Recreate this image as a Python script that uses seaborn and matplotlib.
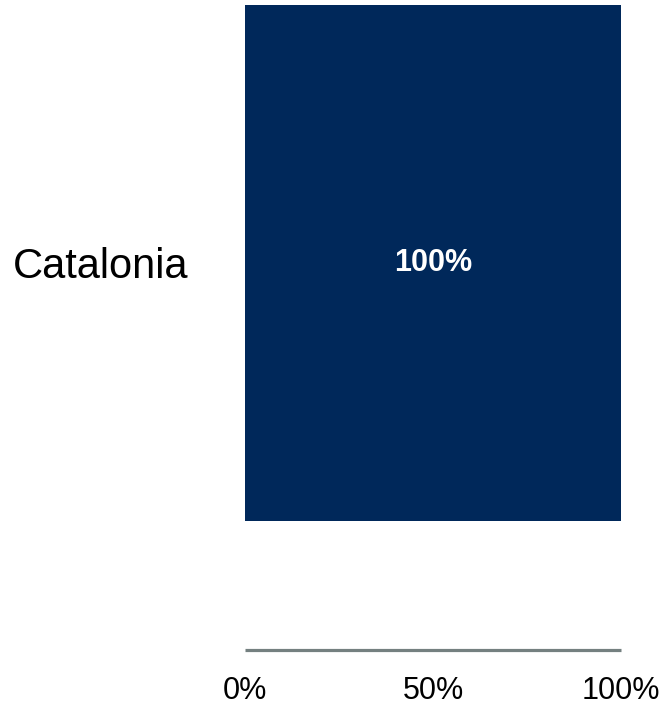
import matplotlib
matplotlib.use("Agg")
import matplotlib.pyplot as plt
import pandas as pd
import seaborn as sns

# chart data
regions = ["Catalonia"]
shares = [100]
share_labels = ["100%"]
x_ticks = [0, 50, 100]
x_tick_labels = ["0%", "50%", "100%"]

bar_color = "#00285A"
axis_gray = "#748080"

sns.set_theme(style="white")
plt.rcParams['font.family'] = ['Liberation Sans', 'DejaVu Sans']

df = pd.DataFrame({"region": regions, "share": shares})

fig = plt.figure(figsize=(6.67, 7.07), dpi=100)
ax = fig.add_axes([245 / 667, 57 / 707, 376 / 667, 645 / 707])

sns.barplot(data=df, x="share", y="region", orient="h", color=bar_color,
            saturation=1, width=0.8, linewidth=0, edgecolor="none", ax=ax)

ax.set_xlim(0, 100)
ax.set_ylim(0.6, -0.4)
ax.set_xticks(x_ticks)
ax.set_xticklabels(x_tick_labels, fontsize=22)
ax.set_xlabel("")
ax.set_ylabel("")
ax.tick_params(axis="x", length=0, pad=19, colors="black")
ax.tick_params(axis="y", length=0, pad=41, labelsize=30, colors="black")

for side in ["top", "right", "left"]:
    ax.spines[side].set_visible(False)
ax.spines["bottom"].set_color(axis_gray)
ax.spines["bottom"].set_linewidth(2.3)
ax.spines["bottom"].set_capstyle("butt")

ax.bar_label(ax.containers[0], labels=share_labels, label_type="center",
             color="white", fontweight="bold", fontsize=22)

fig.savefig("out.png", dpi=100)
plt.close(fig)
